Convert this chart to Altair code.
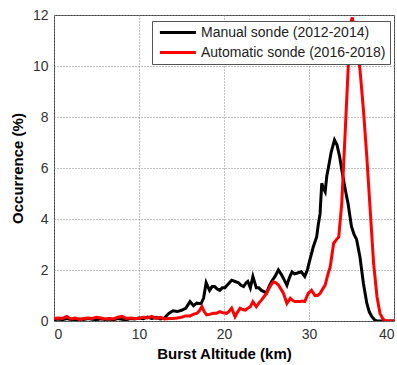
import altair as alt
import pandas as pd

manual_x = [0.0, 0.5, 1.0, 1.5, 2.0, 2.5, 3.0, 3.5, 4.0, 4.5, 5.0, 5.5, 6.0, 6.5, 7.0, 7.5,
            8.0, 8.5, 9.0, 9.5, 10.0, 10.5, 11.0, 11.5, 12.0, 12.5, 13.0, 13.5, 14.0, 14.5,
            15.0, 15.5, 16.0, 16.4, 16.8, 17.3, 17.6, 17.9, 18.3, 18.6, 18.9, 19.2, 19.5,
            19.8, 20.1, 20.5, 20.9, 21.3, 21.7, 22.0, 22.3, 22.6, 22.8, 23.1, 23.4, 23.8,
            24.1, 24.4, 24.7, 25.0, 25.3, 25.6, 26.0, 26.4, 26.7, 27.0, 27.4, 27.7, 28.0,
            28.3, 28.55, 28.8, 29.1, 29.5, 29.8, 30.1, 30.5, 30.9, 31.1, 31.3, 31.5, 31.7,
            31.9, 32.1, 32.3, 32.6, 33.0, 33.3, 33.6, 34.0, 34.3, 34.6, 35.0, 35.3, 35.6,
            36.0, 36.4, 36.8, 37.1, 37.4, 37.7, 38.0, 39.0, 40.0]
manual_y = [0.05, 0.08, 0.05, 0.1, 0.06, 0.04, 0.08, 0.06, 0.1, 0.07, 0.05, 0.09, 0.06, 0.08,
            0.05, 0.1, 0.07, 0.05, 0.1, 0.08, 0.12, 0.09, 0.15, 0.1, 0.14, 0.08, 0.12, 0.3,
            0.4, 0.37, 0.42, 0.5, 0.76, 0.6, 0.7, 0.68, 0.9, 1.5, 1.2, 1.35, 1.35, 1.25, 1.2,
            1.3, 1.3, 1.45, 1.6, 1.55, 1.5, 1.4, 1.35, 1.5, 1.55, 1.3, 1.75, 1.3, 1.3, 1.2,
            1.15, 1.1, 1.35, 1.55, 1.75, 2.0, 1.85, 1.67, 1.4, 1.7, 1.93, 1.85, 1.87, 1.9,
            1.93, 1.75, 2.0, 2.4, 2.9, 3.3, 3.8, 4.2, 5.4, 5.2, 5.07, 5.7, 6.05, 6.6, 7.1,
            6.9, 6.45, 5.65, 5.1, 4.6, 3.7, 3.4, 3.2, 2.5, 1.48, 0.7, 0.35, 0.17, 0.05, 0.0,
            0.0, 0.0]

auto_x = [0.0, 0.5, 1.0, 1.5, 2.0, 2.5, 3.0, 3.5, 4.0, 4.5, 5.0, 5.5, 6.0, 6.5, 7.0, 7.5,
          8.0, 8.5, 9.0, 9.5, 10.0, 10.5, 11.0, 11.5, 12.0, 12.5, 13.0, 13.5, 14.0, 14.5,
          15.0, 15.5, 16.0, 16.5, 16.8, 17.1, 17.4, 17.7, 17.95, 18.3, 18.75, 19.1, 19.5,
          19.9, 20.3, 20.6, 20.9, 21.3, 21.6, 21.9, 22.2, 22.5, 22.8, 23.1, 23.4, 23.8,
          24.1, 24.4, 24.7, 25.0, 25.4, 25.8, 26.1, 26.4, 26.7, 27.0, 27.4, 27.8, 28.1,
          28.35, 28.9, 29.2, 29.5, 29.9, 30.3, 30.7, 31.0, 31.3, 31.6, 31.9, 32.2, 32.5,
          32.9, 33.25, 33.5, 33.85, 34.2, 34.6, 34.9, 35.1, 35.3, 35.6, 36.0, 36.4, 36.8,
          37.2, 37.6, 38.0, 38.35, 38.7, 39.0, 39.5, 40.0]
auto_y = [0.1, 0.12, 0.1, 0.18, 0.08, 0.12, 0.06, 0.1, 0.12, 0.1, 0.15, 0.12, 0.08, 0.1,
          0.08, 0.15, 0.18, 0.1, 0.12, 0.1, 0.1, 0.15, 0.12, 0.18, 0.1, 0.14, 0.08, 0.1,
          0.1, 0.12, 0.15, 0.2, 0.2, 0.28, 0.3, 0.4, 0.56, 0.35, 0.24, 0.26, 0.3, 0.3,
          0.37, 0.32, 0.3, 0.38, 0.5, 0.17, 0.35, 0.5, 0.45, 0.43, 0.5, 0.56, 0.76, 0.56,
          0.7, 0.82, 0.95, 1.08, 1.35, 1.54, 1.5, 1.41, 1.25, 1.08, 0.69, 0.89, 0.8, 0.76,
          0.76, 0.78, 0.76, 1.08, 1.2, 1.0, 1.0, 1.08, 1.25, 1.41, 1.8, 2.13, 3.05, 3.2,
          3.3, 4.6, 7.0, 9.85, 11.7, 11.9, 11.5, 10.9, 9.85, 8.3, 6.45, 4.35, 2.26, 0.95,
          0.3, 0.08, 0.0, 0.0, 0.0]

series = ["Manual sonde (2012-2014)", "Automatic sonde (2016-2018)"]
colors = ["#000000", "#ff0000"]

df_m = pd.DataFrame({"alt": manual_x, "occ": manual_y, "series": series[0]})
df_a = pd.DataFrame({"alt": auto_x, "occ": auto_y, "series": series[1]})

FONT = "Liberation Sans"

x_enc = alt.X("alt:Q", scale=alt.Scale(domain=[0, 40], nice=False),
              axis=alt.Axis(values=[0, 10, 20, 30, 40], title="Burst Altitude (km)"))
y_enc = alt.Y("occ:Q", scale=alt.Scale(domain=[0, 12], nice=False),
              axis=alt.Axis(values=[0, 2, 4, 6, 8, 10, 12], title="Occurrence (%)"))
c_enc = alt.Color("series:N",
                  scale=alt.Scale(domain=series, range=colors),
                  sort=series,
                  legend=alt.Legend(title=None, orient="none", legendX=98, legendY=6,
                                    symbolType="M-0.6,0H5.4", symbolSize=144,
                                    symbolStrokeWidth=3, labelFontSize=14,
                                    labelFont=FONT, labelColor="#222", labelLimit=400,
                                    fillColor="white", strokeColor="#555",
                                    padding=4, labelOffset=30, rowPadding=5,
                                    symbolOffset=0))

line_m = alt.Chart(df_m).mark_line(strokeWidth=3, clip=True).encode(x=x_enc, y=y_enc, color=c_enc)
line_a = alt.Chart(df_a).mark_line(strokeWidth=3, clip=True).encode(x=x_enc, y=y_enc, color=c_enc)

chart = alt.layer(line_m, line_a).properties(
    width=340, height=306,
    autosize=alt.AutoSizeParams(type="none"),
    padding={"left": 54, "top": 15, "right": 3, "bottom": 44},
).configure_view(stroke="#444", strokeWidth=1).configure_axis(
    grid=True, gridColor="#888", gridDash=[1, 2], gridWidth=1,
    domain=False, ticks=False, labelFont=FONT, labelFontSize=14, labelColor="#333",
    labelPadding=6, titleFont=FONT, titleFontSize=15, titleFontWeight="bold",
    titleColor="#000",
).configure_axisX(titlePadding=5).configure_axisY(titlePadding=7)

chart.save("out.html", embed_options={"renderer": "svg", "actions": False})
